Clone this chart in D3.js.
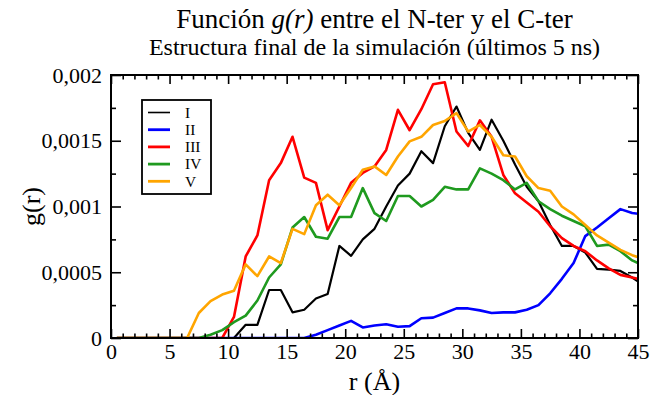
<!DOCTYPE html>
<html>
<head>
<meta charset="utf-8">
<script src="https://cdn.jsdelivr.net/npm/d3@7"></script>
<style>
  html, body { margin: 0; padding: 0; background: #fff; }
  svg { display: block; }
  text { font-family: "Liberation Serif", "DejaVu Serif", serif; fill: #000; }
</style>
</head>
<body>
<svg id="chart" width="652" height="395"></svg>
<script>
// Bin centres r (Å) of the radial distribution histogram
const r = d3.range(0, 46).map(i => i + 0.5);

// g(r) values, in units of 1e-4
const gI = [0,0,0,0,0,0,0,0,0,0,0,1.0,1.0,3.65,3.65,1.95,2.15,3.0,3.35,7.0,6.25,7.5,8.3,10.0,11.6,12.5,14.2,13.3,16.1,17.6,15.6,14.3,16.6,15.0,13.2,11.5,10.4,8.6,7.0,7.0,6.5,5.25,5.2,5.1,4.6,4.0];
const gII = [0,0,0,0,0,0,0,0,0,0,0,0,0,0,0,0,0,0.25,0.6,0.95,1.3,0.8,0.95,1.05,0.85,0.9,1.5,1.55,1.9,2.25,2.25,2.1,1.9,1.95,1.95,2.15,2.5,3.4,4.5,5.7,7.75,8.4,9.1,9.8,9.5,9.4];
const gIII = [0,0,0,0,0,0,0,0,0,0,1.6,6.2,7.8,12.0,13.3,15.3,12.2,11.8,8.2,10.0,11.8,12.55,13.05,14.3,17.35,15.8,17.4,19.3,19.45,15.7,14.6,16.55,15.3,12.4,11.0,10.3,9.6,8.5,7.6,7.0,6.6,5.9,5.3,4.8,4.6,4.4];
const gIV = [0,0,0,0,0,0,0,0,0.25,0.6,1.2,1.7,2.85,4.6,5.6,8.4,9.2,7.7,7.55,9.2,9.2,11.4,9.5,8.9,10.8,10.8,10.0,10.5,11.5,11.3,11.3,12.9,12.5,12.0,11.3,11.8,10.4,9.8,9.3,8.9,8.5,7.0,7.1,6.6,5.9,5.5];
const gV = [0,0,0,0,0,0,0,1.9,2.8,3.3,3.6,5.6,4.7,6.2,5.7,8.3,7.9,10.1,10.9,10.1,11.4,12.8,13.05,12.4,13.8,14.95,15.3,16.2,16.5,17.1,15.7,16.2,15.3,13.9,13.8,12.3,11.4,11.2,10.0,9.4,8.6,7.8,7.25,6.7,6.3,6.0];

const seriesNames = ["I", "II", "III", "IV", "V"];
const seriesValues = [gI, gII, gIII, gIV, gV];
const seriesColors = ["#000000", "#0000ff", "#ff0000", "#1f9a1f", "#ffa500"];
const seriesWidths = [2.2, 2.6, 2.6, 2.6, 2.6];

const xMajorTicks = [0, 5, 10, 15, 20, 25, 30, 35, 40, 45];
const yMajorTicks = [0, 0.0005, 0.001, 0.0015, 0.002];
const yTickLabels = ["0", "0,0005", "0,001", "0,0015", "0,002"];

const subtitleText = "Estructura final de la simulación (últimos 5 ns)";
const serif = '"Liberation Serif", "DejaVu Serif", serif';

const W = 652, H = 395;
const margin = { top: 75, right: 14, bottom: 57, left: 111 };
const iw = W - margin.left - margin.right;
const ih = H - margin.top - margin.bottom;

const svg = d3.select("#chart");

const x = d3.scaleLinear().domain([0, 45]).range([0, iw]);
const y = d3.scaleLinear().domain([0, 0.002]).range([ih, 0]);

const g = svg.append("g").attr("transform", `translate(${margin.left},${margin.top})`);

// clip so lines stop at the frame
svg.append("defs").append("clipPath").attr("id", "plotClip")
  .append("rect").attr("width", iw).attr("height", ih);

// curves
const line = d3.line()
  .x((d, i) => x(r[i]))
  .y(d => y(d * 1e-4));

const curves = g.append("g").attr("clip-path", "url(#plotClip)");
seriesValues.forEach((vals, k) => {
  curves.append("path")
    .datum(vals)
    .attr("d", line)
    .attr("fill", "none")
    .attr("stroke", seriesColors[k])
    .attr("stroke-width", seriesWidths[k])
    .attr("stroke-linejoin", "round");
});

// axes: ticks point inward on all four sides
const minorX = d3.range(0, 46, 1).filter(v => v % 5 !== 0);
const minorY = [0.00025, 0.00075, 0.00125, 0.00175];

function styleAxis(sel) {
  sel.attr("font-family", serif).attr("font-size", 22);
  sel.select(".domain").remove();
  sel.selectAll(".tick line").attr("stroke", "#000").attr("stroke-width", 1.6);
  sel.selectAll(".tick text").attr("fill", "#000").style("font-family", serif);
}

g.append("g").attr("transform", `translate(0,${ih})`)
  .call(d3.axisBottom(x).tickValues(xMajorTicks).tickSize(-9).tickPadding(5).tickFormat(d3.format("d")))
  .call(styleAxis);
g.append("g").attr("transform", `translate(0,${ih})`)
  .call(d3.axisBottom(x).tickValues(minorX).tickSize(-4.5).tickFormat(""))
  .call(styleAxis);
g.append("g")
  .call(d3.axisTop(x).tickValues(xMajorTicks).tickSize(-9).tickFormat(""))
  .call(styleAxis);
g.append("g")
  .call(d3.axisTop(x).tickValues(minorX).tickSize(-4.5).tickFormat(""))
  .call(styleAxis);

g.append("g")
  .call(d3.axisLeft(y).tickValues(yMajorTicks).tickSize(-10).tickPadding(9)
    .tickFormat((d, i) => yTickLabels[i]))
  .call(styleAxis);
g.append("g")
  .call(d3.axisLeft(y).tickValues(minorY).tickSize(-5).tickFormat(""))
  .call(styleAxis);
g.append("g").attr("transform", `translate(${iw},0)`)
  .call(d3.axisRight(y).tickValues(yMajorTicks).tickSize(-10).tickFormat(""))
  .call(styleAxis);
g.append("g").attr("transform", `translate(${iw},0)`)
  .call(d3.axisRight(y).tickValues(minorY).tickSize(-5).tickFormat(""))
  .call(styleAxis);

// frame
g.append("rect")
  .attr("width", iw).attr("height", ih)
  .attr("fill", "none").attr("stroke", "#000").attr("stroke-width", 2);

// titles
const title = svg.append("text")
  .attr("x", margin.left + iw / 2).attr("y", 27.5)
  .attr("text-anchor", "middle")
  .style("font-size", "27px");
title.append("tspan").text("Función ");
title.append("tspan").style("font-style", "italic").text("g(r)");
title.append("tspan").text(" entre el N-ter y el C-ter");

svg.append("text")
  .attr("x", margin.left + iw / 2).attr("y", 55)
  .attr("text-anchor", "middle")
  .style("font-size", "24px")
  .text(subtitleText);

// axis titles
svg.append("text")
  .attr("x", margin.left + iw / 2).attr("y", 390)
  .attr("text-anchor", "middle")
  .style("font-size", "26px")
  .text("r (Å)");

svg.append("text")
  .attr("transform", `translate(40,${margin.top + ih / 2}) rotate(-90)`)
  .attr("text-anchor", "middle")
  .style("font-size", "26px")
  .text("g(r)");

// legend
const legend = g.append("g").attr("transform", "translate(31,25)");
legend.append("rect")
  .attr("width", 69).attr("height", 94)
  .attr("fill", "#fff").attr("stroke", "#000").attr("stroke-width", 1.8);
seriesNames.forEach((name, k) => {
  const yy = 12.5 + k * 17.2;
  legend.append("line")
    .attr("x1", 6).attr("x2", 28).attr("y1", yy).attr("y2", yy)
    .attr("stroke", seriesColors[k]).attr("stroke-width", k === 0 ? 1.6 : 2.8);
  legend.append("text")
    .attr("x", 43).attr("y", yy + 5.2)
    .style("font-size", "15.4px")
    .text(name);
});
</script>
</body>
</html>
